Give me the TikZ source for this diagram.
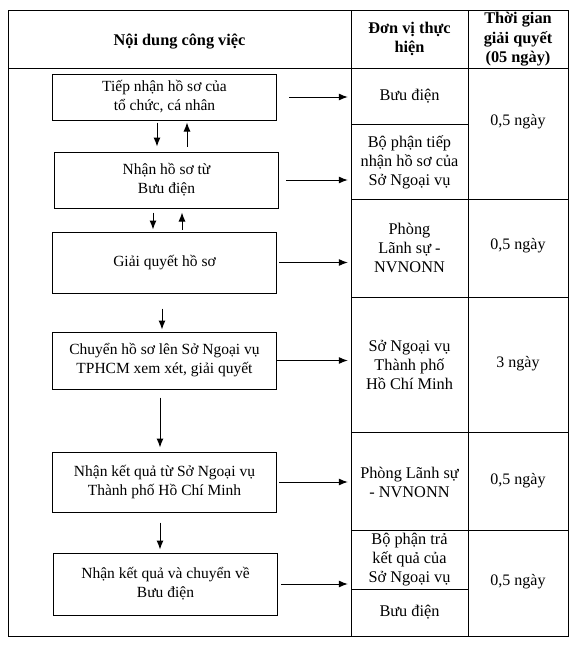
\documentclass[tikz,border=0pt]{standalone}
\usepackage{fontspec}
\setmainfont{Liberation Serif}
\usetikzlibrary{arrows.meta, positioning, calc}
\tikzset{
	box/.style={rectangle, draw, line width=1pt, align=center, minimum width=224pt, inner sep=2pt, font=\fontsize{15.5pt}{19pt}\selectfont},
	cell/.style={align=center, minimum width=117pt, inner sep=0pt, font=\fontsize{16.3pt}{19pt}\selectfont},
	tcell/.style={align=center, minimum width=100pt, inner sep=0pt, font=\fontsize{16pt}{19pt}\selectfont},
	head/.style={align=center, inner sep=0pt, font=\bfseries\fontsize{16.3pt}{19.5pt}\selectfont},
	arr/.style={line width=1pt, -{Latex[length=9pt, width=7pt]}},
	grid/.style={line width=1pt}
}
\begin{document}
\begin{tikzpicture}[x=1pt, y=-1pt]
        \useasboundingbox (0,0) rectangle (576,649);
        % bang
        \draw[grid] (8,10) rectangle (568,636);
        \draw[grid] (8,68) -- (568,68);
        \draw[grid] (351,10) -- (351,636);
        \draw[grid] (468,10) -- (468,636);
        \draw[grid] (351,124) -- (468,124);
        \draw[grid] (351,589) -- (468,589);
        \foreach \y in {199, 297, 432, 530}
            \draw[grid] (351,\y) -- (568,\y);

        \node[head] (h1) at (179.5, 42) {Nội dung công việc};
        \node[head] (h2) at (409.5, 39) {Đơn vị thực\\hiện};
        \node[head] (h3) at (518, 39.5) {Thời gian\\giải quyết\\(05 ngày)};

        % cac buoc
        \node[box, minimum height=46pt] (tiepnhan) at (164.5, 97) {Tiếp nhận hồ sơ của\\tổ chức, cá nhân};
        \node[box, minimum height=56pt] (nhanhs) at (166.5, 180) {Nhận hồ sơ từ\\Bưu điện};
        \node[box, minimum height=61pt] (giaiquyet) at (164.5, 262.5) {Giải quyết hồ sơ};
        \node[box, minimum height=57pt] (chuyen) at (164.5, 360.5) {Chuyển hồ sơ lên Sở Ngoại vụ\\TPHCM xem xét, giải quyết};
        \node[box, minimum height=60pt] (nhankq) at (164.5, 482) {Nhận kết quả từ Sở Ngoại vụ\\Thành phố Hồ Chí Minh};
        \node[box, minimum height=62pt] (tra) at (165.5, 584) {Nhận kết quả và chuyển về\\Bưu điện};

        % don vi
        \node[cell] (bd1) at (409.5, 96) {Bưu điện};
        \node[cell] (bp1) at (409.5, 162) {Bộ phận tiếp\\nhận hồ sơ của\\Sở Ngoại vụ};
        \node[cell] (pls1) at (409.5, 248) {Phòng\\Lãnh sự -\\NVNONN};
        \node[cell] (sngv) at (409.5, 365) {Sở Ngoại vụ\\Thành phố\\Hồ Chí Minh};
        \node[cell] (pls2) at (409.5, 482) {Phòng Lãnh sự\\- NVNONN};
        \node[cell] (bp2) at (409.5, 559.5) {Bộ phận trả\\kết quả của\\Sở Ngoại vụ};
        \node[cell] (bd2) at (409.5, 612) {Bưu điện};

        % thoi gian
        \node[tcell] (t1) at (518, 122) {0,5 ngày};
        \node[tcell] (t2) at (518, 246) {0,5 ngày};
        \node[tcell] (t3) at (518, 364) {3 ngày};
        \node[tcell] (t4) at (518, 481) {0,5 ngày};
        \node[tcell] (t5) at (518, 582) {0,5 ngày};

        % mui ten doc
        \draw[arr, shorten <=2pt, shorten >=5pt] ([xshift=-7.5pt]tiepnhan.south) -- ([xshift=-7.5pt]tiepnhan.south |- nhanhs.north);
        \draw[arr, shorten <=5pt, shorten >=2pt] ([xshift=20.5pt]nhanhs.north) -- ([xshift=20.5pt]nhanhs.north |- tiepnhan.south);
        \draw[arr, shorten <=4pt, shorten >=2pt] ([xshift=-13.5pt]nhanhs.south) -- ([xshift=-13.5pt]nhanhs.south |- giaiquyet.north);
        \draw[arr, shorten <=2pt, shorten >=4pt] ([xshift=17.5pt]giaiquyet.north) -- ([xshift=17.5pt]giaiquyet.north |- nhanhs.south);
        \draw[arr, shorten <=15pt, shorten >=2pt] ([xshift=-2.5pt]giaiquyet.south) -- ([xshift=-2.5pt]giaiquyet.south |- chuyen.north);
        \draw[arr, shorten <=8pt, shorten >=4pt] ([xshift=-4.5pt]chuyen.south) -- ([xshift=-4.5pt]chuyen.south |- nhankq.north);
        \draw[arr, shorten <=10pt, shorten >=3pt] ([xshift=-4.5pt]nhankq.south) -- ([xshift=-4.5pt]nhankq.south |- tra.north);

        % mui ten ngang
        \draw[arr, shorten <=12pt, shorten >=3pt] (tiepnhan.east) -- (tiepnhan.east -| bd1.west);
        \draw[arr, shorten <=7pt, shorten >=3pt] (nhanhs.east) -- (nhanhs.east -| bp1.west);
        \draw[arr, shorten <=2pt, shorten >=3pt] (giaiquyet.east) -- (giaiquyet.east -| pls1.west);
        \draw[arr, shorten >=3pt] (chuyen.east) -- (chuyen.east -| sngv.west);
        \draw[arr, shorten <=2pt, shorten >=3pt] (nhankq.east) -- (nhankq.east -| pls2.west);
        \draw[arr, shorten <=3pt, shorten >=3pt] (tra.east) -- (tra.east -| bp2.west);
\end{tikzpicture}
\end{document}
